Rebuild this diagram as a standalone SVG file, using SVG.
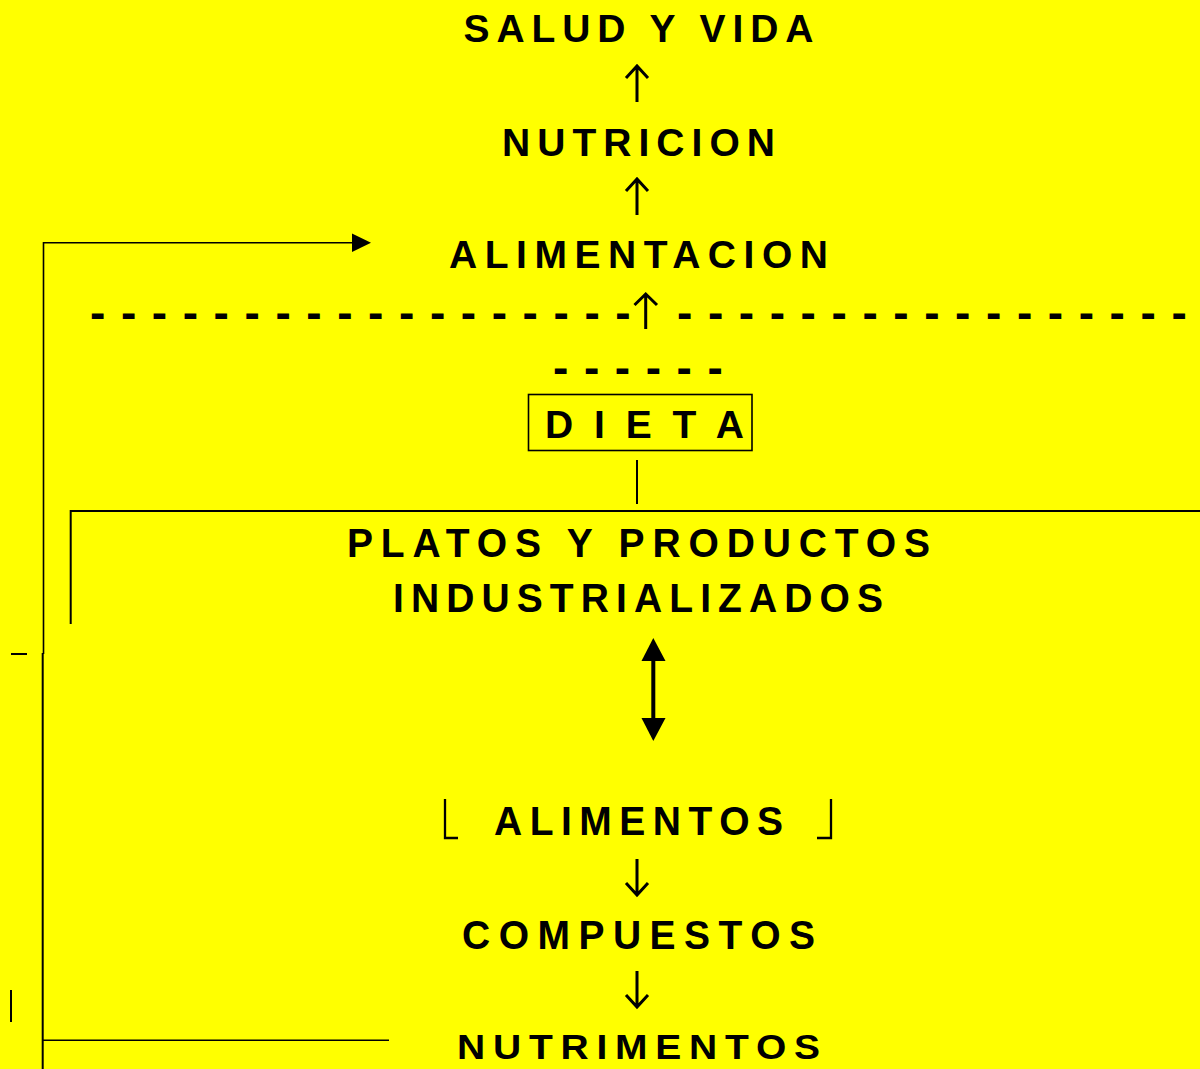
<svg xmlns="http://www.w3.org/2000/svg" width="1200" height="1069" viewBox="0 0 1200 1069">
  <style>
    .t { font-family: "Liberation Sans", Arial, sans-serif; font-weight: bold; font-size: 39px; fill: #000; text-anchor: middle; }
    .dash { font-family: "Liberation Sans", Arial, sans-serif; font-weight: bold; font-size: 46px; fill: #000; letter-spacing: 1.4px; }
    .ln { stroke: #000; fill: none; }
    .arr { stroke: #000; stroke-width: 3; fill: none; stroke-linecap: butt; }
  </style>
  <rect x="0" y="0" width="1200" height="1069" fill="#FFFF00"/>

  <g id="salud-y-vida">
    <text class="t" x="638.5" y="0" textLength="350" lengthAdjust="spacing" transform="translate(0,42) scale(1,1.01)">SALUD Y VIDA</text>
  </g>
  <g id="nutricion">
    <text class="t" x="638.5" y="0" textLength="273" lengthAdjust="spacing" transform="translate(0,156) scale(1,1.01)">NUTRICION</text>
  </g>
  <g id="alimentacion">
    <text class="t" x="638.5" y="0" textLength="379" lengthAdjust="spacing" transform="translate(0,268) scale(1,1.01)">ALIMENTACION</text>
  </g>
  <g id="separador">
    <text class="dash" x="90" y="328.4">- - - - - - - - - - - - - - - - - -</text>
    <text class="dash" x="677" y="328.4">- - - - - - - - - - - - - - - - -</text>
    <text class="dash" x="553" y="383.3">- - - - - -</text>
  </g>
  <g id="dieta">
    <rect x="528.5" y="394.5" width="223.5" height="56" fill="none" stroke="#000" stroke-width="1.6"/>
    <text class="t" x="644.5" y="438" textLength="199" lengthAdjust="spacing">D I E T A</text>
  </g>
  <g id="platos-y-productos">
    <text class="t" x="638.5" y="0" textLength="583" lengthAdjust="spacing" transform="translate(0,557) scale(1,1.03)">PLATOS Y PRODUCTOS</text>
    <text class="t" x="638" y="0" textLength="490" lengthAdjust="spacing" transform="translate(0,611.7) scale(1,1.03)">INDUSTRIALIZADOS</text>
  </g>
  <g id="alimentos">
    <polyline class="ln" stroke-width="2.3" points="445,799 445,838 458,838"/>
    <polyline class="ln" stroke-width="2.3" points="817,838 831,838 831,799"/>
    <text class="t" x="638.5" y="0" textLength="289" lengthAdjust="spacing" transform="translate(0,835) scale(1,1.03)">ALIMENTOS</text>
  </g>
  <g id="compuestos">
    <text class="t" x="638.5" y="0" textLength="353" lengthAdjust="spacing" transform="translate(0,949) scale(1,1.03)">COMPUESTOS</text>
  </g>
  <g id="nutrimentos">
    <text class="t" x="638.5" y="0" textLength="363" lengthAdjust="spacing" transform="translate(0,1059) scale(1,0.88)">NUTRIMENTOS</text>
  </g>

  <g id="connectors">
    <path class="arr" d="M637,102 V66 M626,78 L637,66 L648,78"/>
    <path class="arr" d="M637,215 V179 M626,191 L637,179 L648,191"/>
    <path class="arr" d="M645.7,329 V294 M634.5,305 L645.7,294 L657,305"/>
    <path class="arr" d="M637,859 V895 M626,883 L637,895 L648,883"/>
    <path class="arr" d="M637,971 V1007 M626,995 L637,1007 L648,995"/>
    <line class="ln" stroke-width="2" x1="637" y1="460" x2="637" y2="504"/>
    <polyline class="ln" stroke-width="2" points="70.7,624 70.7,511 1200,511"/>
    <line class="ln" stroke-width="4" x1="653.3" y1="658" x2="653.3" y2="721"/>
    <polygon points="653.3,638 641.5,661 665.5,661" fill="#000"/>
    <polygon points="653.3,741 641.5,718 665.5,718" fill="#000"/>
    <polyline class="ln" stroke-width="1.6" points="43.5,654 43.5,242.7 352,242.7"/>
    <polygon points="352,233.5 371,242.7 352,252" fill="#000"/>
    <line class="ln" stroke-width="2" x1="42.7" y1="653" x2="42.7" y2="1069"/>
    <line class="ln" stroke-width="1.6" x1="43" y1="1040.3" x2="389" y2="1040.3"/>
    <line class="ln" stroke-width="2" x1="11" y1="654" x2="27" y2="654"/>
    <line class="ln" stroke-width="2" x1="11" y1="990" x2="11" y2="1022"/>
  </g>
</svg>
